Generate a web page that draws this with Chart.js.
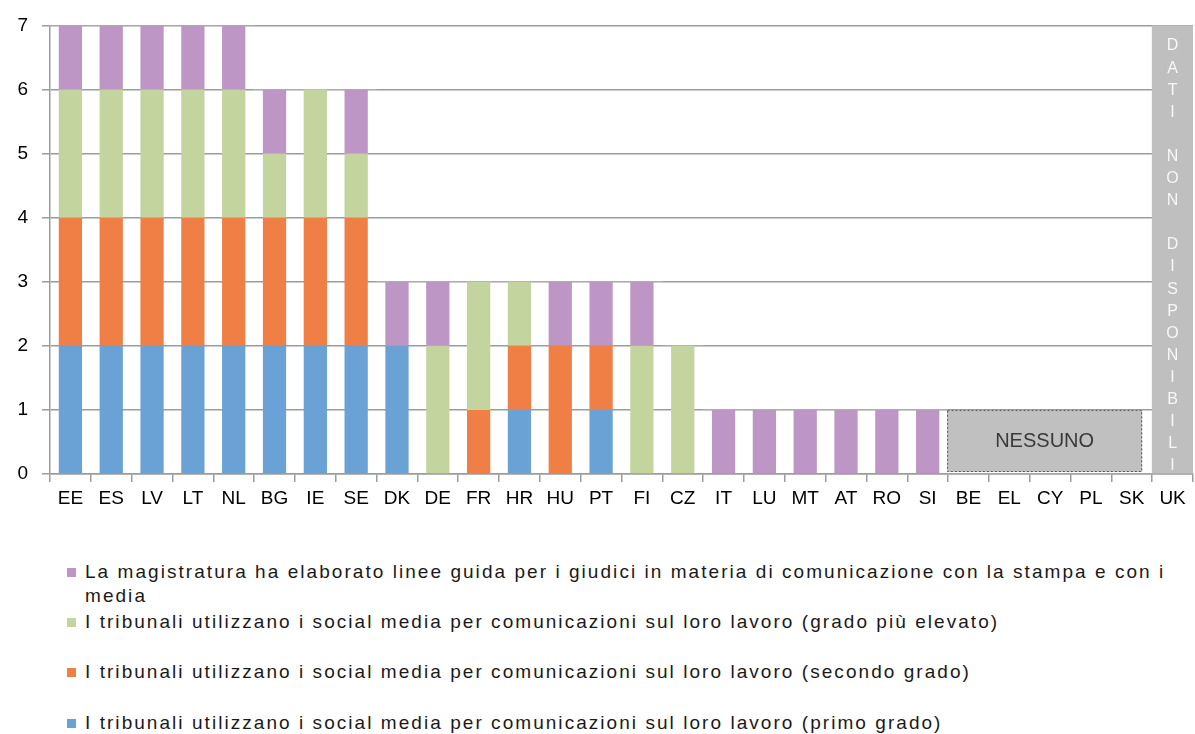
<!DOCTYPE html>
<html>
<head>
<meta charset="utf-8">
<script src="https://cdn.jsdelivr.net/npm/chart.js@4/dist/chart.umd.min.js"></script>
<style>
  body { margin: 0; background: #fff; width: 1195px; height: 734px; overflow: hidden; position: relative; }
  #wrap { position: absolute; left: 0; top: 0; width: 1195px; height: 520px; }
  #legend { position: absolute; left: 67px; top: 560px; width: 1115px; font-family: "Liberation Sans", Arial, sans-serif; font-size: 19px; letter-spacing: 2.05px; color: #1a1a1a; }
  .item { position: relative; padding-left: 18px; line-height: 24px; }
  .box { position: absolute; left: 0; top: 8px; width: 9px; height: 9px; }
</style>
</head>
<body>
<div id="wrap"><canvas id="chart"></canvas></div>
<div id="legend"></div>
<script>
const categories = ['EE','ES','LV','LT','NL','BG','IE','SE','DK','DE','FR','HR','HU','PT','FI','CZ','IT','LU','MT','AT','RO','SI','BE','EL','CY','PL','SK','UK'];
const primoGrado   = [2,2,2,2,2,2,2,2,2,0,0,1,0,1,0,0,0,0,0,0,0,0,0,0,0,0,0,0];
const secondoGrado = [2,2,2,2,2,2,2,2,0,0,1,1,2,1,0,0,0,0,0,0,0,0,0,0,0,0,0,0];
const gradoElevato = [2,2,2,2,2,1,2,1,0,2,2,1,0,0,2,2,0,0,0,0,0,0,0,0,0,0,0,0];
const lineeGuida   = [1,1,1,1,1,1,0,1,1,1,0,0,1,1,1,0,1,1,1,1,1,1,0,0,0,0,0,0];
const nonDisponibili = [0,0,0,0,0,0,0,0,0,0,0,0,0,0,0,0,0,0,0,0,0,0,0,0,0,0,0,7];
const nessunoCategories = ['BE','EL','CY','PL','SK'];
const nessunoValue = 1;
const yTicks = [0,1,2,3,4,5,6,7];

const seriesLabels = [
  'I tribunali utilizzano i social media per comunicazioni sul loro lavoro (primo grado)',
  'I tribunali utilizzano i social media per comunicazioni sul loro lavoro (secondo grado)',
  'I tribunali utilizzano i social media per comunicazioni sul loro lavoro (grado più elevato)',
  'La magistratura ha elaborato linee guida per i giudici in materia di comunicazione con la stampa e con i media'
];
const colors = ['#6aa2d6', '#f07f45', '#c3d49f', '#bd96c6'];
const seriesData = [primoGrado, secondoGrado, gradoElevato, lineeGuida];

const datasets = seriesData.map((d, i) => ({
  label: seriesLabels[i],
  data: d,
  backgroundColor: colors[i],
  barPercentage: 0.57,
  categoryPercentage: 1
}));
datasets.push({
  label: 'DATI NON DISPONIBILI',
  data: nonDisponibili,
  backgroundColor: '#bfbfbf',
  barPercentage: 1,
  categoryPercentage: 1
});

const overlays = {
  id: 'overlays',
  afterDatasetsDraw(chart) {
    const ctx = chart.ctx;
    const x = chart.scales.x, y = chart.scales.y;
    const step = x.getPixelForValue(1) - x.getPixelForValue(0);
    // NESSUNO box
    const i0 = categories.indexOf(nessunoCategories[0]);
    const i1 = categories.indexOf(nessunoCategories[nessunoCategories.length - 1]);
    const left = x.getPixelForValue(i0) - step / 2 - 1;
    const right = x.getPixelForValue(i1) + step / 2 - 10;
    const top = y.getPixelForValue(nessunoValue);
    const bottom = y.getPixelForValue(0) - 2;
    ctx.save();
    ctx.fillStyle = '#c0c0c0';
    ctx.fillRect(left, top, right - left, bottom - top);
    ctx.setLineDash([2, 2]);
    ctx.strokeStyle = '#595959';
    ctx.lineWidth = 1;
    ctx.strokeRect(left + 0.5, top + 0.5, right - left - 1, bottom - top - 1);
    ctx.setLineDash([]);
    ctx.fillStyle = '#3a3a3a';
    ctx.font = '20px "Liberation Sans", Arial, sans-serif';
    ctx.textAlign = 'center';
    ctx.textBaseline = 'middle';
    ctx.fillText('NESSUNO', (left + right) / 2, (top + bottom) / 2 + 1);
    // vertical text on UK bar
    const ux = x.getPixelForValue(categories.indexOf('UK'));
    const text = 'DATI NON DISPONIBILI';
    ctx.fillStyle = '#f7f7f7';
    ctx.font = '16px "Liberation Sans", Arial, sans-serif';
    for (let k = 0; k < text.length; k++) {
      ctx.fillText(text[k], ux, 46 + k * 22.1);
    }
    ctx.restore();
  }
};

new Chart(document.getElementById('chart'), {
  type: 'bar',
  data: { labels: categories, datasets: datasets },
  options: {
    responsive: true,
    maintainAspectRatio: false,
    animation: false,
    layout: { padding: { top: 25, right: 2, left: 0, bottom: 0 } },
    plugins: { legend: { display: false }, tooltip: { enabled: false } },
    scales: {
      x: {
        stacked: true,
        grid: { drawOnChartArea: false, drawTicks: true, tickLength: 8, color: '#9c9c9c', lineWidth: 1.5 },
        border: { color: '#9c9c9c', width: 1.5 },
        ticks: { color: '#000', font: { family: '"Liberation Sans", Arial, sans-serif', size: 19 }, padding: 5, maxRotation: 0, autoSkip: false },
        afterFit(s) { s.height = 46; }
      },
      y: {
        stacked: true,
        min: 0, max: 7,
        afterBuildTicks(s) { s.ticks = yTicks.map(v => ({ value: v })); },
        grid: { color: '#9c9c9c', lineWidth: 1.5, tickLength: 8 },
        border: { color: '#9c9c9c', width: 1.5 },
        ticks: { color: '#000', font: { family: '"Liberation Sans", Arial, sans-serif', size: 19 }, padding: 14 },
        afterFit(s) { s.width = 50; }
      }
    }
  },
  plugins: [overlays]
});

const legend = document.getElementById('legend');
const order = [3, 2, 1, 0];
const gaps = [0, 2, 26, 27];
order.forEach((i, n) => {
  const div = document.createElement('div');
  div.className = 'item';
  div.style.marginTop = gaps[n] + 'px';
  div.innerHTML = '<span class="box" style="background:' + colors[i] + '"></span>' + seriesLabels[i];
  legend.appendChild(div);
});
</script>
</body>
</html>
